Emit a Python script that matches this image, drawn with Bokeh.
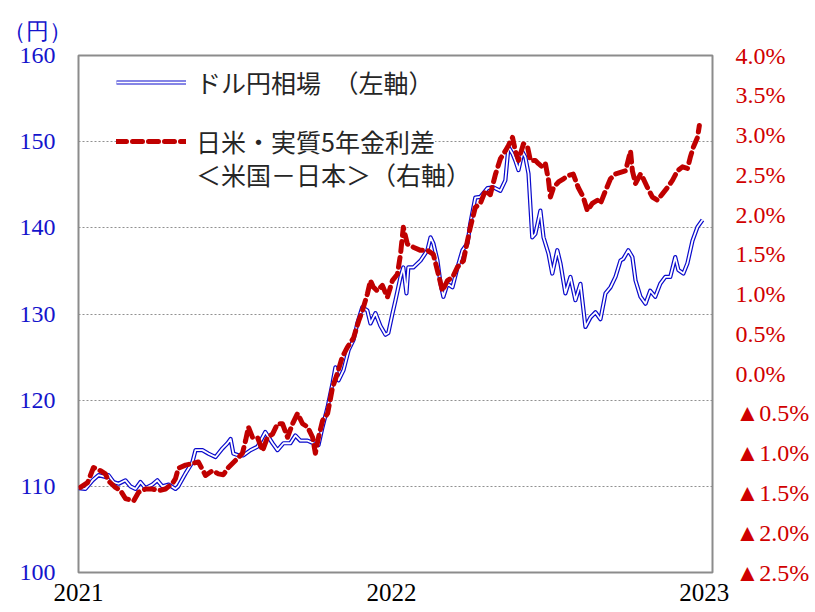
from bokeh.plotting import figure
from bokeh.models import (LinearAxis, Range1d, FixedTicker, PrintfTickFormatter,
                          Legend, LegendItem)
from bokeh.embed import file_html
from bokeh.resources import INLINE

# ---- data ----
usd_jpy_t = [2021.000, 2021.022, 2021.045, 2021.064, 2021.086, 2021.096, 2021.112, 2021.128,
             2021.150, 2021.166, 2021.182, 2021.198, 2021.214, 2021.236, 2021.252, 2021.268,
             2021.288, 2021.310, 2021.319, 2021.342, 2021.364, 2021.374, 2021.396, 2021.415,
             2021.438, 2021.460, 2021.476, 2021.486, 2021.495, 2021.511, 2021.527, 2021.550,
             2021.572, 2021.597, 2021.620, 2021.636, 2021.655, 2021.677, 2021.693, 2021.709,
             2021.732, 2021.751, 2021.767, 2021.780, 2021.796, 2021.812, 2021.821, 2021.831,
             2021.847, 2021.863, 2021.879, 2021.891, 2021.907, 2021.923, 2021.933, 2021.949,
             2021.965, 2021.981, 2021.990, 2022.003, 2022.013, 2022.029, 2022.038, 2022.048,
             2022.054, 2022.070, 2022.093, 2022.115, 2022.125, 2022.134, 2022.147, 2022.157,
             2022.166, 2022.179, 2022.195, 2022.211, 2022.227, 2022.243, 2022.252, 2022.268,
             2022.284, 2022.307, 2022.326, 2022.348, 2022.364, 2022.374, 2022.387, 2022.396,
             2022.406, 2022.419, 2022.428, 2022.438, 2022.450, 2022.460, 2022.476, 2022.486,
             2022.502, 2022.514, 2022.530, 2022.540, 2022.556, 2022.572, 2022.588, 2022.604,
             2022.620, 2022.636, 2022.652, 2022.668, 2022.684, 2022.700, 2022.716, 2022.732,
             2022.741, 2022.757, 2022.770, 2022.780, 2022.796, 2022.812, 2022.827, 2022.843,
             2022.859, 2022.875, 2022.891, 2022.907, 2022.917, 2022.933, 2022.946, 2022.962,
             2022.978, 2022.994]
usd_jpy = [109.8, 109.7, 110.7, 111.3, 111.1, 111.3, 110.5, 110.3,
           110.7, 110.0, 109.7, 110.5, 109.8, 110.2, 110.7, 110.0,
           110.2, 109.7, 110.0, 111.5, 112.8, 114.2, 114.2, 113.8,
           113.4, 114.4, 115.0, 115.5, 113.8, 113.6, 113.6, 114.2,
           114.6, 116.3, 115.0, 114.2, 115.0, 115.0, 115.9, 115.3,
           115.3, 115.0, 114.8, 116.9, 119.2, 122.0, 123.8, 122.3,
           123.5, 125.8, 127.0, 128.9, 130.8, 130.4, 128.9, 130.1,
           128.6, 127.6, 127.8, 130.0, 131.6, 134.3, 135.4, 132.4,
           135.4, 135.4, 136.2, 137.4, 138.9, 138.2, 136.2, 133.5,
           132.0, 133.5, 133.1, 135.4, 137.4, 138.2, 140.5, 143.5,
           143.6, 144.6, 144.7, 144.3, 145.5, 149.4, 148.6, 147.8,
           146.7, 148.8, 148.2, 146.3, 138.9, 139.3, 142.0, 138.9,
           137.0, 134.7, 137.4, 135.9, 132.4, 134.3, 131.6, 133.5,
           128.5, 129.6, 130.2, 129.4, 132.4, 133.1, 134.3, 136.2,
           136.4, 137.4, 136.6, 133.9, 132.0, 131.2, 132.7, 132.0,
           133.5, 134.3, 134.3, 136.6, 135.1, 134.7, 135.9, 138.5,
           140.1, 140.9]

spread_t = [2021.006, 2021.029, 2021.048, 2021.070, 2021.086, 2021.096, 2021.118, 2021.134,
            2021.150, 2021.176, 2021.192, 2021.214, 2021.236, 2021.256, 2021.278, 2021.300,
            2021.310, 2021.319, 2021.342, 2021.364, 2021.383, 2021.406, 2021.428, 2021.447,
            2021.463, 2021.479, 2021.502, 2021.524, 2021.534, 2021.543, 2021.556, 2021.572,
            2021.588, 2021.604, 2021.620, 2021.636, 2021.652, 2021.668, 2021.684, 2021.700,
            2021.716, 2021.732, 2021.748, 2021.757, 2021.767, 2021.780, 2021.796, 2021.812,
            2021.827, 2021.843, 2021.859, 2021.879, 2021.895, 2021.907, 2021.923, 2021.933,
            2021.942, 2021.955, 2021.971, 2021.987, 2022.003, 2022.019, 2022.029, 2022.038,
            2022.051, 2022.070, 2022.093, 2022.115, 2022.134, 2022.150, 2022.163, 2022.179,
            2022.195, 2022.211, 2022.230, 2022.243, 2022.252, 2022.268, 2022.284, 2022.300,
            2022.316, 2022.332, 2022.348, 2022.364, 2022.374, 2022.387, 2022.396, 2022.406,
            2022.422, 2022.435, 2022.444, 2022.460, 2022.470, 2022.482, 2022.492, 2022.502,
            2022.508, 2022.518, 2022.534, 2022.550, 2022.565, 2022.581, 2022.597, 2022.613,
            2022.626, 2022.642, 2022.658, 2022.668, 2022.684, 2022.700, 2022.716, 2022.732,
            2022.748, 2022.764, 2022.770, 2022.780, 2022.796, 2022.805, 2022.818, 2022.834,
            2022.850, 2022.866, 2022.882, 2022.898, 2022.914, 2022.930, 2022.946, 2022.955,
            2022.965, 2022.978, 2022.984]
spread = [-1.43, -1.37, -1.18, -1.22, -1.26, -1.35, -1.43, -1.47,
          -1.57, -1.60, -1.49, -1.45, -1.45, -1.47, -1.45, -1.38,
          -1.32, -1.19, -1.15, -1.13, -1.11, -1.28, -1.22, -1.26,
          -1.27, -1.18, -1.09, -1.00, -0.84, -0.67, -0.80, -0.80,
          -0.97, -0.80, -0.76, -0.63, -0.63, -0.80, -0.63, -0.50,
          -0.63, -0.67, -0.80, -1.00, -0.80, -0.59, -0.50, -0.17,
          0.00, 0.21, 0.33, 0.45, 0.66, 0.79, 1.00, 1.17,
          1.09, 1.04, 1.11, 0.96, 1.17, 1.25, 1.50, 1.84,
          1.63, 1.59, 1.55, 1.55, 1.50, 1.25, 1.04, 1.17,
          1.21, 1.34, 1.42, 1.67, 1.84, 2.09, 2.14, 2.30,
          2.25, 2.50, 2.70, 2.80, 2.87, 2.97, 2.80, 2.68,
          2.89, 2.85, 2.68, 2.68, 2.64, 2.60, 2.64, 2.43,
          2.22, 2.34, 2.41, 2.45, 2.49, 2.51, 2.34, 2.22,
          2.05, 2.14, 2.18, 2.14, 2.30, 2.45, 2.51, 2.53,
          2.55, 2.80, 2.55, 2.39, 2.51, 2.45, 2.34, 2.22,
          2.18, 2.26, 2.34, 2.43, 2.55, 2.60, 2.58, 2.72,
          2.85, 2.97, 3.12]

year_ticks = [2021, 2022, 2023]
yen_ticks = [100, 110, 120, 130, 140, 150, 160]
pct_ticks = [-2.5, -2.0, -1.5, -1.0, -0.5, 0.0, 0.5, 1.0, 1.5, 2.0, 2.5, 3.0, 3.5, 4.0]
pct_neg_ticks = [-0.5, -1.0, -1.5, -2.0, -2.5]
pct_neg_labels = ["▲0.5%", "▲1.0%", "▲1.5%", "▲2.0%", "▲2.5%"]

label_usd = "ドル円相場　（左軸）"
label_spread1 = "日米・実質5年金利差"
label_spread2 = "＜米国－日本＞（右軸）"
unit_label = "（円）"

X_START, X_END = 2021, 2023.026

# ---- figure ----
NUM_FONT = "Liberation Serif"
JP_FONT = "Noto Sans CJK JP"

p = figure(width=814, height=612, output_backend="svg", toolbar_location=None,
           x_range=Range1d(X_START, X_END), y_range=Range1d(100, 160),
           min_border_left=78, min_border_right=102, min_border_top=55, min_border_bottom=40)
p.extra_y_ranges = {"pct": Range1d(-2.5, 4.0)}

p.background_fill_color = "white"
p.border_fill_color = "white"
p.outline_line_color = "#8c8c8c"
p.outline_line_width = 2

# unit label as title
p.title.text = unit_label
p.title.align = "left"
p.title.offset = -76
p.title.standoff = 24
p.title.text_font = NUM_FONT
p.title.text_font_size = "23px"
p.title.text_font_style = "normal"
p.title.text_color = "#1414CC"

p.xgrid.grid_line_color = None
p.ygrid.ticker = FixedTicker(ticks=yen_ticks)
p.ygrid.grid_line_color = "#909090"
p.ygrid.grid_line_dash = "2 2"
p.ygrid.grid_line_width = 1

# left axis
ya = p.yaxis[0]
ya.ticker = FixedTicker(ticks=yen_ticks)
ya.axis_line_color = None
ya.major_tick_line_color = None
ya.minor_tick_line_color = None
ya.major_tick_out = 0
ya.major_label_standoff = 23
ya.major_label_text_font = NUM_FONT
ya.major_label_text_font_size = "24px"
ya.major_label_text_color = "#1414CC"

# bottom axis
xa = p.xaxis[0]
xa.ticker = FixedTicker(ticks=year_ticks)
xa.formatter = PrintfTickFormatter(format="%d")
xa.axis_line_color = None
xa.major_tick_line_color = None
xa.minor_tick_line_color = None
xa.major_tick_out = 0
xa.major_label_standoff = 11
xa.major_label_text_font = NUM_FONT
xa.major_label_text_font_size = "25px"
xa.major_label_text_color = "black"

# right axis (interest-rate spread, negatives shown with ▲)
ra = LinearAxis(y_range_name="pct", ticker=FixedTicker(ticks=pct_ticks),
                formatter=PrintfTickFormatter(format="%.1f%%"),
                major_label_overrides=dict(zip(pct_neg_ticks, pct_neg_labels)))
ra.axis_line_color = None
ra.major_tick_line_color = None
ra.minor_tick_line_color = None
ra.major_tick_out = 0
ra.major_label_standoff = 23
ra.major_label_text_font = NUM_FONT
ra.major_label_text_font_size = "24px"
ra.major_label_text_color = "#D00000"
p.add_layout(ra, "right")

# ---- series ----
r_blue = p.line(usd_jpy_t, usd_jpy, line_color="#0A0ACC", line_width=4.2, line_join="round")
r_white = p.line(usd_jpy_t, usd_jpy, line_color="white", line_width=1.8, line_join="round")
r_red = p.line(spread_t, spread, y_range_name="pct", line_color="#C00000", line_width=5,
               line_dash="10 6", line_cap="round", line_join="round")

# ---- legends ----
leg1 = Legend(items=[LegendItem(label=label_usd, renderers=[r_blue, r_white])],
              location=(38, 472), padding=10)
leg2 = Legend(items=[LegendItem(label=label_spread1, renderers=[r_red])],
              location=(38, 413), padding=10)
leg3 = Legend(items=[LegendItem(label=label_spread2, renderers=[])],
              location=(38, 380), padding=0)
for lg in (leg1, leg2, leg3):
    lg.glyph_width = 70
    lg.glyph_height = 30
    lg.label_height = 30
    lg.label_standoff = 10
    lg.margin = 0
    lg.border_line_color = None
    lg.background_fill_color = "white"
    lg.background_fill_alpha = 1.0
    lg.label_text_font = JP_FONT
    lg.label_text_font_size = "25px"
    lg.label_text_color = "#262626"
    lg.label_text_baseline = "middle"
leg3.background_fill_alpha = 0.0
p.add_layout(leg1)
p.add_layout(leg2)
p.add_layout(leg3)

open("out.html", "w").write(file_html(p, INLINE))
